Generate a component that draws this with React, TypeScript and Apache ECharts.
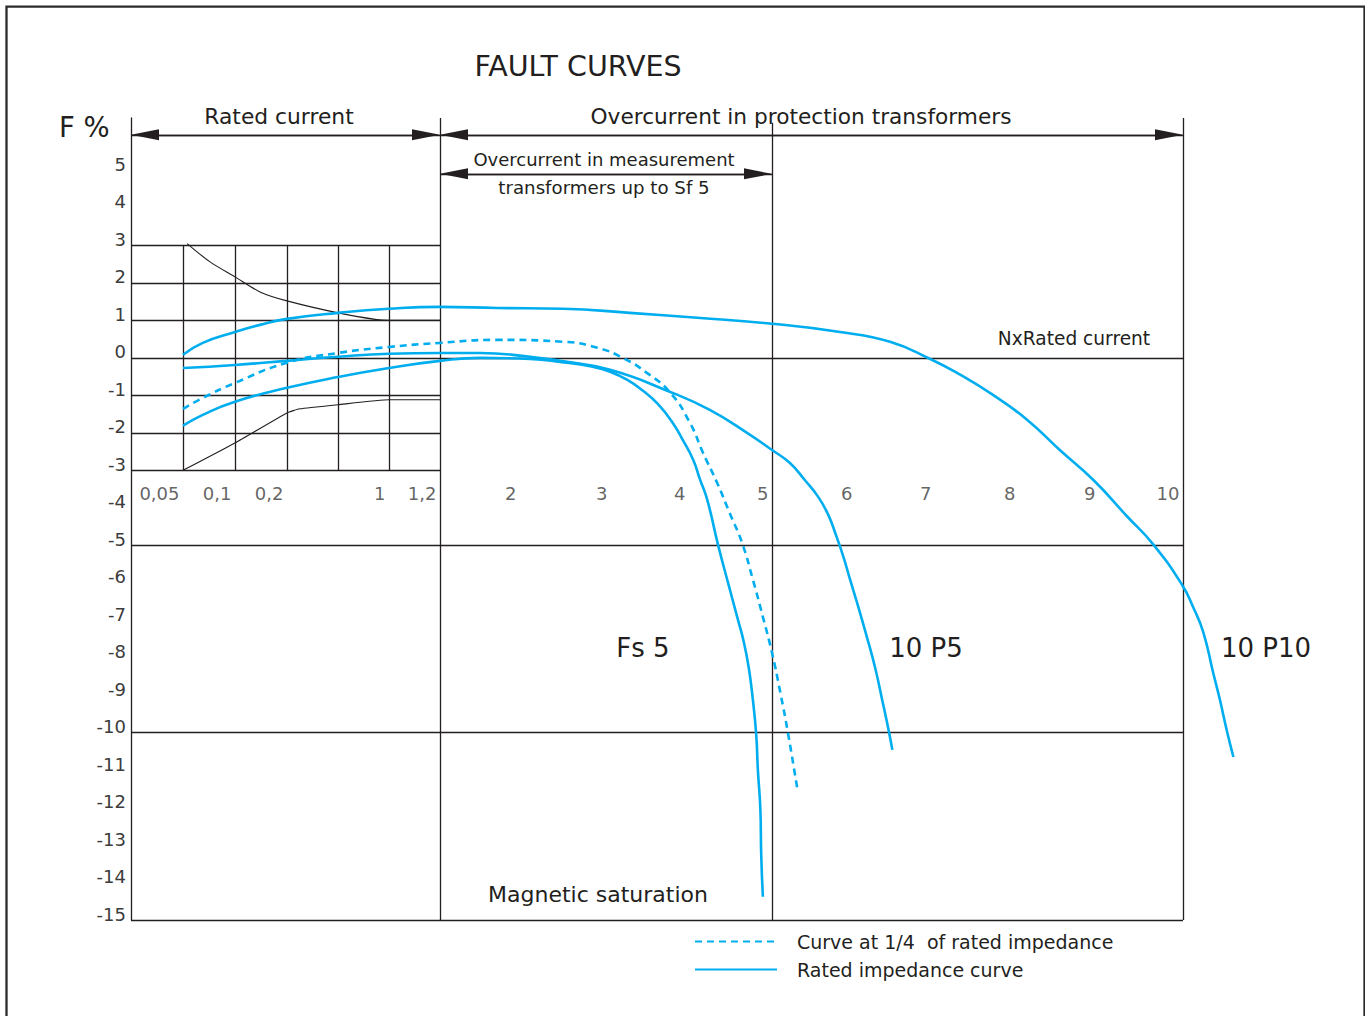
import React, { useEffect, useRef } from 'react';
import * as echarts from 'echarts';

const BLUE = '#00aeef';
const INK = '#231f20';
const FONT = '"DejaVu Sans", Verdana, sans-serif';

// Horizontal scale of the drawing: current multiple N -> horizontal axis unit
const scaleN = [0.05, 0.1, 0.2, 0.5, 1, 1.2, 2, 3, 4, 5, 6, 7, 8, 9, 10];
const scaleU = [52, 104, 156, 207, 258, 309, 389, 480, 558, 641, 725, 804, 888, 968, 1052];

// Tick labels (current multiples)
const tickValues = [0.05, 0.1, 0.2, 1, 1.2, 2, 3, 4, 5, 6, 7, 8, 9, 10];
const tickLabels = ['0,05', '0,1', '0,2', '1', '1,2', '2', '3', '4', '5', '6', '7', '8', '9', '10'];

// Curves: [N, F %]
const curve10P10: [number, number][] = [
  [0.05, 0.08], [0.069, 0.40], [0.1, 0.69], [0.148, 0.88], [0.2, 1.04], [0.5, 1.20], [1, 1.31],
  [1.2, 1.36], [1.77, 1.33], [2.47, 1.31], [3.24, 1.20], [4.10, 1.07], [5.0, 0.91], [5.81, 0.69],
  [6.43, 0.43], [6.94, -0.03], [7.30, -0.45], [7.69, -0.99], [8.10, -1.65], [8.51, -2.46],
  [8.93, -3.26], [9.33, -4.22], [9.65, -4.99], [9.99, -6.06], [10.12, -6.65], [10.24, -7.31],
  [10.36, -8.41], [10.44, -9.13], [10.52, -9.93], [10.60, -10.65],
];
const curve10P5: [number, number][] = [
  [0.05, -0.27], [0.1, -0.19], [0.2, -0.08], [0.5, 0.03], [1, 0.11], [1.2, 0.13], [1.6, 0.13],
  [2.11, 0.03], [2.44, -0.08], [2.99, -0.32], [3.76, -0.91], [4.25, -1.39], [4.70, -2.00],
  [5.0, -2.46], [5.21, -2.80], [5.39, -3.26], [5.55, -3.71], [5.67, -4.19], [5.76, -4.72],
  [5.85, -5.31], [5.93, -5.92], [6.03, -6.65], [6.13, -7.39], [6.24, -8.25], [6.34, -9.21],
  [6.42, -10.01], [6.46, -10.46],
];
const curveFs5: [number, number][] = [
  [0.05, -1.81], [0.069, -1.52], [0.1, -1.17], [0.2, -0.80], [0.5, -0.51], [1, -0.27], [1.2, -0.08],
  [1.6, 0.0], [2.11, -0.03], [2.44, -0.11], [2.80, -0.24], [2.99, -0.37], [3.21, -0.59],
  [3.41, -0.88], [3.60, -1.23], [3.79, -1.73], [3.92, -2.19], [4.05, -2.72], [4.13, -3.23],
  [4.22, -3.79], [4.35, -4.99], [4.47, -6.00], [4.59, -6.99], [4.66, -7.58], [4.72, -8.27],
  [4.77, -9.13], [4.81, -10.06], [4.83, -11.00], [4.86, -12.06], [4.87, -13.26], [4.89, -14.38],
];
const curveQuarter: [number, number][] = [
  [0.05, -1.36], [0.069, -1.07], [0.1, -0.67], [0.2, -0.13], [0.5, 0.13], [1, 0.29], [1.2, 0.40],
  [1.77, 0.48], [2.47, 0.43], [2.85, 0.27], [3.15, 0.0], [3.46, -0.40], [3.76, -0.93],
  [4.01, -1.73], [4.17, -2.54], [4.34, -3.34], [4.49, -4.14], [4.64, -4.94], [4.77, -5.92],
  [4.89, -6.91], [5.0, -7.87], [5.10, -8.94], [5.19, -10.01], [5.30, -11.48],
];
const limitUpper: [number, number][] = [
  [0.054, 3.05], [0.076, 2.56], [0.1, 2.16], [0.148, 1.76], [0.2, 1.52], [0.5, 1.20], [0.88, 1.02], [1, 1.0], [1.2, 1.0],
];
const limitLower: [number, number][] = [
  [0.05, -3.0], [0.1, -2.27], [0.2, -1.47], [0.276, -1.36], [0.5, -1.25], [1, -1.12], [1.2, -1.12],
];

// Frame of the drawing (values)
const fullRows = [0, -5, -10, -15];
const gridRows = [3, 2, 1, -1, -2, -3];
const gridCols = [0.05, 0.1, 0.2, 0.5, 1];
const sectionCols = [1.2, 10];
const measureCol = 5;
const yMin = -15;
const yMax = 6.4;
const measureTop = 6.27;
const arrowRow1 = 5.95;
const arrowRow2 = 4.91;
const tickRow = -3.63;

function toU(n: number): number {
  const k = scaleN.length - 1;
  if (n <= scaleN[0]) {
    return scaleU[0] + ((n - scaleN[0]) * (scaleU[1] - scaleU[0])) / (scaleN[1] - scaleN[0]);
  }
  for (let i = 1; i <= k; i++) {
    if (n <= scaleN[i]) {
      const t = (n - scaleN[i - 1]) / (scaleN[i] - scaleN[i - 1]);
      return scaleU[i - 1] + t * (scaleU[i] - scaleU[i - 1]);
    }
  }
  return scaleU[k] + ((n - scaleN[k]) * (scaleU[k] - scaleU[k - 1])) / (scaleN[k] - scaleN[k - 1]);
}

const pts = (c: [number, number][]) => c.map(([n, f]) => [toU(n), f]);

export default function App() {
  const ref = useRef<HTMLDivElement>(null);

  useEffect(() => {
    document.body.style.margin = '0';
    if (!ref.current) return;
    const chart = echarts.init(ref.current, undefined, { renderer: 'svg' });

    const xLeft = 0;
    const xEnd = toU(10);
    const HEAD = 28; // arrow head length (axis units = px)
    const seg = (a: number[], b: number[]) => [{ coord: a }, { coord: b }];

    const arrowSpans: [number, number, number][] = [
      [xLeft, toU(1.2), arrowRow1],
      [toU(1.2), toU(10), arrowRow1],
      [toU(1.2), toU(5), arrowRow2],
    ];

    const frameLines = [
      ...fullRows.map((r) => seg([xLeft, r], [xEnd, r])),
      ...gridRows.map((r) => seg([xLeft, r], [toU(1.2), r])),
      ...gridCols.map((c) => seg([toU(c), 3], [toU(c), -3])),
      ...sectionCols.map((c) => seg([toU(c), yMax], [toU(c), yMin])),
      seg([toU(measureCol), measureTop], [toU(measureCol), yMin]),
      ...arrowSpans.map(([a, b, r]) => seg([a, r], [b, r])),
    ];
    const arrowHeads = arrowSpans.map(([a, b, r]) => seg([a + HEAD / 2, r], [b - HEAD / 2, r]));

    const blueLine = (name: string, data: [number, number][], dashed = false) => ({
      type: 'line',
      name,
      data: pts(data),
      showSymbol: false,
      symbol: 'none',
      smooth: 0.5,
      clip: false,
      silent: true,
      z: 5,
      lineStyle: { color: BLUE, width: 2.6, type: dashed ? [7, 5] : 'solid' },
      itemStyle: { color: BLUE },
    });
    const blackLine = (data: [number, number][], smooth: number) => ({
      type: 'line',
      data: pts(data),
      symbol: 'none',
      smooth,
      silent: true,
      z: 4,
      lineStyle: { color: INK, width: 1.1 },
    });

    const txt = (text: string, x: number, y: number, fontSize: number, align = 'center') => ({
      type: 'text',
      x,
      y,
      silent: true,
      style: { text, fill: INK, fontSize, fontFamily: FONT, align, verticalAlign: 'middle' },
    });

    chart.setOption({
      animation: false,
      grid: { left: 131, right: 100, top: 118, bottom: 96 },
      xAxis: {
        type: 'value',
        min: 0,
        max: 1134,
        show: false,
      },
      yAxis: {
        type: 'value',
        min: yMin,
        max: yMax,
        interval: 1,
        axisLine: { show: true, lineStyle: { color: INK, width: 1.3 } },
        axisTick: { show: false },
        splitLine: { show: false },
        axisLabel: {
          margin: 5,
          fontSize: 18,
          fontFamily: FONT,
          color: '#3c3c3c',
          verticalAlign: 'bottom',
          lineHeight: 12,
          formatter: (v: number) => (v > 5 ? '' : String(v)),
        },
      },
      legend: {
        data: ['Curve at 1/4  of rated impedance', 'Rated impedance curve'],
        orient: 'vertical',
        left: 694,
        top: 932,
        padding: 0,
        itemWidth: 82,
        itemHeight: 20,
        itemGap: 9,
        selectedMode: false,
        itemStyle: { opacity: 0, borderWidth: 0 },
        textStyle: { fontSize: 19, color: INK, fontFamily: FONT, padding: [0, 0, 0, 15] },
      },
      graphic: [
        {
          type: 'rect',
          silent: true,
          shape: { x: 6.5, y: 6.7, width: 1358, height: 1100 },
          style: { fill: 'none', stroke: '#2b2b2b', lineWidth: 2.3 },
        },
        txt('FAULT CURVES', 578, 66, 28.5),
        txt('F %', 59, 127, 27.5, 'left'),
        txt('Rated current', 279, 116, 21.8),
        txt('Overcurrent in protection transformers', 801, 116, 21.7),
        txt('Overcurrent in measurement', 604, 159, 18),
        txt('transformers up to Sf 5', 604, 187, 18.2),
        txt('NxRated current', 1074, 338, 18.6),
        txt('Fs 5', 643, 648, 26),
        txt('10 P5', 926, 648, 26),
        txt('10 P10', 1266, 648, 26),
        txt('Magnetic saturation', 598, 894, 22),
      ],
      series: [
        {
          type: 'line',
          data: [],
          silent: true,
          markLine: {
            silent: true,
            symbol: ['none', 'none'],
            label: { show: false },
            emphasis: { disabled: true },
            lineStyle: { color: INK, width: 1.3, type: 'solid' },
            data: frameLines,
          },
        },
        {
          type: 'line',
          data: [],
          silent: true,
          markLine: {
            silent: true,
            symbol: ['triangle', 'triangle'],
            symbolSize: [11, HEAD],
            label: { show: false },
            emphasis: { disabled: true },
            lineStyle: { color: INK, width: 1.3, type: 'solid' },
            itemStyle: { color: INK },
            data: arrowHeads,
          },
        },
        blackLine(limitUpper, 0.3),
        blackLine(limitLower, 0.15),
        blueLine('Rated impedance curve', curve10P10),
        blueLine('Rated impedance curve', curve10P5),
        blueLine('Rated impedance curve', curveFs5),
        blueLine('Curve at 1/4  of rated impedance', curveQuarter, true),
        {
          type: 'scatter',
          silent: true,
          symbolSize: 1,
          itemStyle: { color: 'rgba(0,0,0,0)' },
          data: tickValues.map((v) => [toU(v), tickRow]),
          label: {
            show: true,
            position: 'left',
            distance: 3,
            fontSize: 18,
            fontFamily: FONT,
            color: '#3c3c3c',
            formatter: (p: any) => tickLabels[p.dataIndex],
          },
        },
      ],
    });

    return () => chart.dispose();
  }, []);

  return <div ref={ref} style={{ width: 1365, height: 1016, background: '#fff' }} />;
}
